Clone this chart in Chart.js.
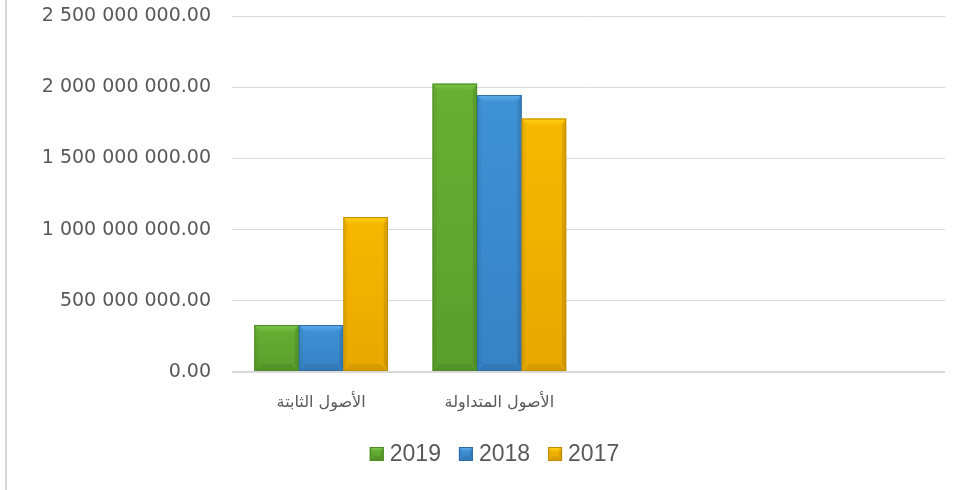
<!DOCTYPE html>
<html>
<head>
<meta charset="utf-8">
<script src="https://cdn.jsdelivr.net/npm/chart.js@4/dist/chart.umd.min.js"></script>
<style>
  html, body { margin: 0; padding: 0; background: #ffffff; }
  #wrap { position: relative; width: 961px; height: 490px; }
  #frame { position: absolute; left: 5px; top: 0; width: 2px; height: 490px; background: #d9d9d9; }
</style>
</head>
<body>
<div id="wrap">
  <div id="frame"></div>
  <canvas id="c" width="961" height="490"></canvas>
</div>
<script>
const categories = ['الأصول الثابتة', 'الأصول المتداولة', '', ''];
const seriesNames = ['2019', '2018', '2017'];
const values2019 = [330000000, 2025000000, null, null];
const values2018 = [330000000, 1945000000, null, null];
const values2017 = [1088000000, 1780000000, null, null];
const yTicks = [0, 500000000, 1000000000, 1500000000, 2000000000, 2500000000];

const fills   = ['#67B034', '#3F92D6', '#F6B800'];
const tops    = ['#7CC64A', '#5FAEEC', '#FFD21A'];
const bottoms = ['#5A9E2C', '#3682C4', '#E8A800'];
const borders = ['#4C8A22', '#2D6EA8', '#BF8C00'];

function fmt(v) {
  const s = Math.round(v).toString().replace(/\B(?=(\d{3})+(?!\d))/g, ' ');
  return s + '.00';
}

function bevel(ctx, x0, y0, x1, y1, i) {
  const h = y1 - y0, w = x1 - x0;
  const b = Math.min(7, h / 3, w / 3);
  ctx.save();
  const g = ctx.createLinearGradient(0, y0, 0, y1);
  g.addColorStop(0, fills[i]);
  g.addColorStop(1, bottoms[i]);
  ctx.fillStyle = g;
  ctx.fillRect(x0, y0, w, h);
  ctx.beginPath();
  ctx.moveTo(x0, y0); ctx.lineTo(x1, y0); ctx.lineTo(x1 - b, y0 + b); ctx.lineTo(x0 + b, y0 + b); ctx.closePath();
  const gt = ctx.createLinearGradient(0, y0, 0, y0 + b);
  gt.addColorStop(0, tops[i]); gt.addColorStop(1, fills[i]);
  ctx.fillStyle = gt; ctx.fill();
  ctx.beginPath();
  ctx.moveTo(x0, y1); ctx.lineTo(x1, y1); ctx.lineTo(x1 - b, y1 - b); ctx.lineTo(x0 + b, y1 - b); ctx.closePath();
  ctx.fillStyle = 'rgba(0,0,0,0.07)'; ctx.fill();
  ctx.beginPath();
  ctx.moveTo(x0, y0); ctx.lineTo(x0 + b * 0.6, y0 + b); ctx.lineTo(x0 + b * 0.6, y1 - b); ctx.lineTo(x0, y1); ctx.closePath();
  ctx.fillStyle = 'rgba(0,0,0,0.04)'; ctx.fill();
  ctx.beginPath();
  ctx.moveTo(x1, y0); ctx.lineTo(x1 - b * 0.6, y0 + b); ctx.lineTo(x1 - b * 0.6, y1 - b); ctx.lineTo(x1, y1); ctx.closePath();
  ctx.fillStyle = 'rgba(0,0,0,0.10)'; ctx.fill();
  ctx.strokeStyle = borders[i]; ctx.lineWidth = 1;
  ctx.strokeRect(x0 + 0.5, y0 + 0.5, w - 1, h - 1);
  ctx.restore();
}

const bevelPlugin = {
  id: 'bevelBars',
  afterDatasetsDraw(chart) {
    const ctx = chart.ctx;
    chart.data.datasets.forEach((ds, i) => {
      const meta = chart.getDatasetMeta(i);
      meta.data.forEach((bar, j) => {
        if (ds.data[j] == null) return;
        const p = bar.getProps(['x', 'y', 'base', 'width'], true);
        bevel(ctx, p.x - p.width / 2, p.y, p.x + p.width / 2, p.base, i);
      });
    });
  }
};

const legendPlugin = {
  id: 'customLegend',
  afterDraw(chart) {
    const ctx = chart.ctx;
    ctx.save();
    ctx.font = '23px "Liberation Sans", Arial, sans-serif';
    ctx.textBaseline = 'middle';
    const box = 14, gapText = 6, gapItem = 18;
    const items = chart.data.datasets.map((ds, i) => ({ text: ds.label, i, w: box + gapText + ctx.measureText(ds.label).width }));
    const total = items.reduce((a, it) => a + it.w, 0) + gapItem * (items.length - 1);
    let x = chart.width / 2 + 14 - total / 2;
    const cy = 454;
    items.forEach(it => {
      bevel(ctx, x, cy - box / 2, x + box, cy + box / 2, it.i);
      ctx.fillStyle = '#595959';
      ctx.fillText(it.text, x + box + gapText, cy + 1);
      x += it.w + gapItem;
    });
    ctx.restore();
  }
};

const datasets = [values2019, values2018, values2017].map((d, i) => ({
  label: seriesNames[i],
  data: d,
  backgroundColor: 'rgba(0,0,0,0)',
  borderWidth: 0,
  categoryPercentage: 0.75,
  barPercentage: 1.0
}));

new Chart(document.getElementById('c'), {
  type: 'bar',
  data: { labels: categories, datasets },
  options: {
    responsive: false,
    animation: false,
    events: [],
    layout: { padding: { top: 16, right: 16, left: 0, bottom: 68 } },
    plugins: { legend: { display: false }, tooltip: { enabled: false } },
    scales: {
      x: {
        grid: { display: false },
        border: { display: false },
        ticks: {
          color: '#595959',
          font: { family: '"DejaVu Sans", sans-serif', size: 16 },
          padding: 13,
          maxRotation: 0,
          autoSkip: false
        },
        afterFit(s) { s.height = 50; }
      },
      y: {
        min: 0, max: 2500000000,
        afterBuildTicks(s) { s.ticks = yTicks.map(v => ({ value: v })); },
        grid: {
          color: '#d9d9d9',
          lineWidth: c => (c.tick && c.tick.value === 0 ? 2 : 1),
          drawTicks: false
        },
        border: { display: false },
        ticks: {
          color: '#595959',
          font: { family: '"DejaVu Sans", sans-serif', size: 19 },
          padding: 21,
          callback: v => fmt(v)
        },
        afterFit(s) { s.width = 232; s.paddingTop = 0; s.paddingBottom = 0; }
      }
    }
  },
  plugins: [bevelPlugin, legendPlugin]
});
</script>
</body>
</html>
